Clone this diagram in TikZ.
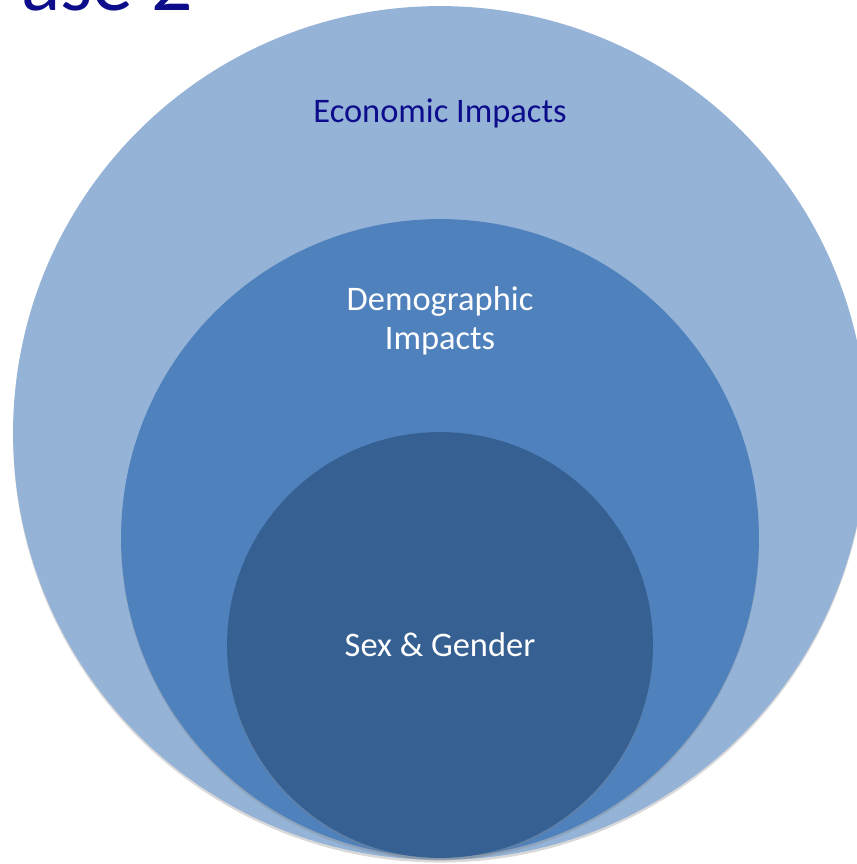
\documentclass[tikz,border=0pt]{standalone}
\usepackage{fontspec}
\setmainfont{Carlito}
\usetikzlibrary{shadows}

\definecolor{outerblue}{HTML}{95B3D7}
\definecolor{midblue}{HTML}{4F81BD}
\definecolor{innerblue}{HTML}{366092}
\definecolor{titleblue}{HTML}{0D0D8C}

\tikzset{
	ring/.style={circle, inner sep=0pt, draw=none, drop shadow={shadow xshift=0pt, shadow yshift=-1.5pt, opacity=0.3}},
	lbl/.style={inner sep=0pt, font=\fontsize{19.6pt}{22.1pt}\selectfont, align=center},
}

\begin{document}
\begin{tikzpicture}[x=0.02cm, y=-0.02cm]
			
			\useasboundingbox (0,0) rectangle (857,864);
			
			\node[ring, fill=outerblue, minimum size=17.08cm](econ) at (440,433){};
			\node[ring, fill=midblue, minimum size=12.76cm](demo) at (440,538){};
			\node[ring, fill=innerblue, minimum size=8.52cm](sex) at (440,645){};
			
			\node[lbl, text=titleblue, anchor=base](econtxt) at (440,123){Economic Impacts};
			\node[lbl, text=white](demotxt) at (440,321){Demographic\\Impacts};
			\node[lbl, text=white, anchor=base](sextxt) at (440,656){Sex \& Gender};
			
			\node[inner sep=0pt, anchor=base west, text=titleblue, font=\fontsize{46.5pt}{50pt}\selectfont](title) at (21,11){ase 2};
			
		\end{tikzpicture}
\end{document}
